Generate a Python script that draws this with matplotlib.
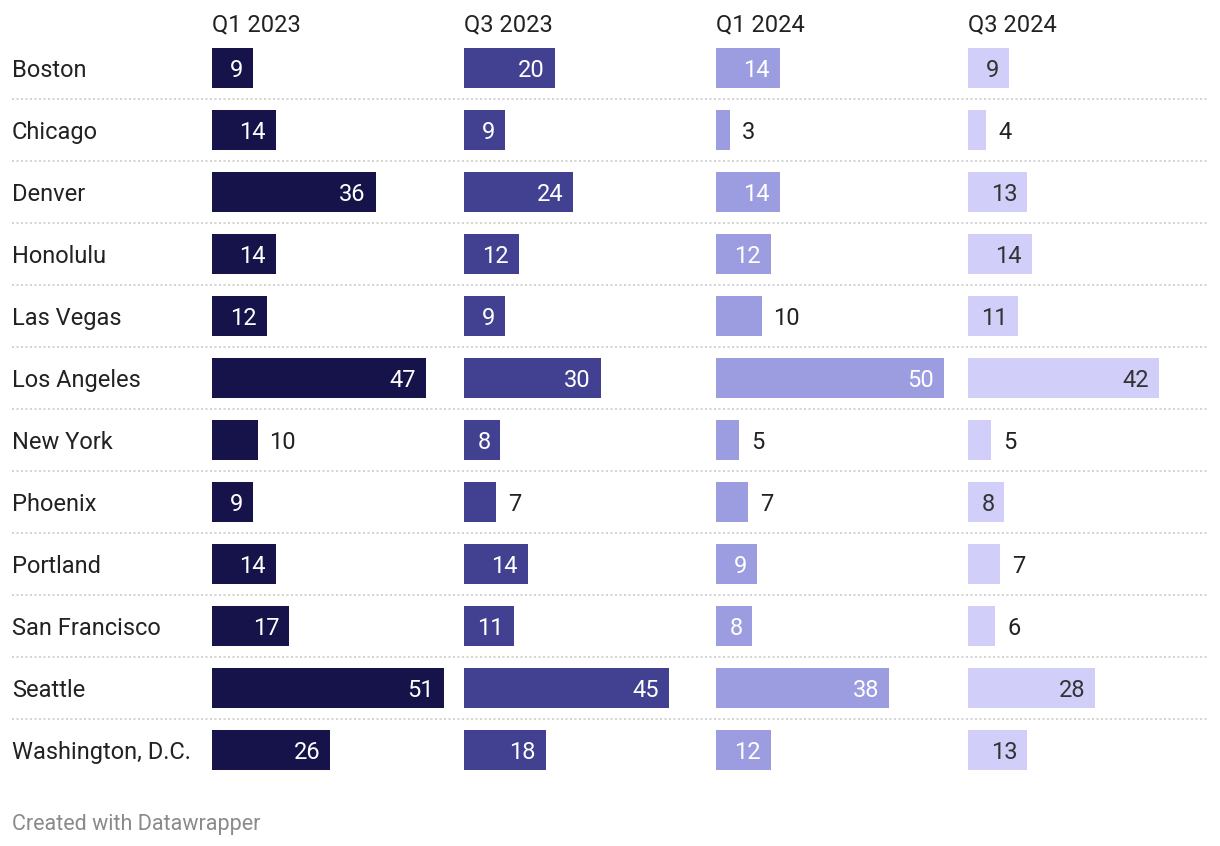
import matplotlib.pyplot as plt
from matplotlib.transforms import blended_transform_factory

plt.rcParams['font.family'] = ['Roboto', 'DejaVu Sans']

cities = ['Boston', 'Chicago', 'Denver', 'Honolulu', 'Las Vegas', 'Los Angeles',
          'New York', 'Phoenix', 'Portland', 'San Francisco', 'Seattle',
          'Washington, D.C.']
quarters = ['Q1 2023', 'Q3 2023', 'Q1 2024', 'Q3 2024']

q1_2023 = [9, 14, 36, 14, 12, 47, 10, 9, 14, 17, 51, 26]
q3_2023 = [20, 9, 24, 12, 9, 30, 8, 7, 14, 11, 45, 18]
q1_2024 = [14, 3, 14, 12, 10, 50, 5, 7, 9, 8, 38, 12]
q3_2024 = [9, 4, 13, 14, 11, 42, 5, 8, 7, 6, 28, 13]
series = [q1_2023, q3_2023, q1_2024, q3_2024]

colors = ['#15134a', '#424191', '#9c9ce1', '#d1cffa']
inside_text = ['white', 'white', 'white', '#333333']

# labels Datawrapper placed outside the bar: (column, row)
outside = {(0, 6), (1, 7), (2, 1), (2, 4), (2, 6), (2, 7),
           (3, 1), (3, 6), (3, 8), (3, 9)}

W, H = 1220, 846
fs = 17
dy = -2.5 * 0.72  # nudge text down a little (points)
fig = plt.figure(figsize=(W / 100, H / 100), dpi=100)

col_left = [212, 464, 716, 968]
px_per_unit = 4.55
xmax = 55
top, bottom = 37, 781
n = len(cities)

for c, (name, vals) in enumerate(zip(quarters, series)):
    ax = fig.add_axes([col_left[c] / W, 1 - bottom / H,
                       xmax * px_per_unit / W, (bottom - top) / H])
    ax.barh(range(n), vals, height=40 / 62, color=colors[c])
    ax.set_xlim(0, xmax)
    ax.set_ylim(n - 0.5, -0.5)
    ax.axis('off')
    for r, v in enumerate(vals):
        if (c, r) in outside:
            ax.annotate(str(v), (v, r), xytext=(12 * 0.72, dy),
                        textcoords='offset points', ha='left', va='center',
                        fontsize=fs, color='#222222')
        else:
            ax.annotate(str(v), (v, r), xytext=(-10 * 0.72, dy),
                        textcoords='offset points', ha='right', va='center',
                        fontsize=fs, color=inside_text[c])
    fig.text(col_left[c] / W, 1 - 25 / H, name, ha='left', va='center',
             fontsize=fs, color='#222222')

    if c == 0:
        trans = blended_transform_factory(fig.transFigure, ax.transData)
        for r, city in enumerate(cities):
            ax.annotate(city, (12 / W, r), xycoords=trans, xytext=(0, dy),
                        textcoords='offset points', ha='left', va='center',
                        fontsize=fs, color='#222222')
        for r in range(n - 1):
            ax.plot([12 / W, 1208 / W], [r + 0.5, r + 0.5], transform=trans,
                    color='#cccccc', lw=1.2, ls=(0, (1.2, 1.5)),
                    clip_on=False)

fig.text(12 / W, 1 - 824 / H, 'Created with Datawrapper', ha='left',
         va='center', fontsize=15.5, color='#8a8a8a')

fig.savefig('out.png', dpi=100)
